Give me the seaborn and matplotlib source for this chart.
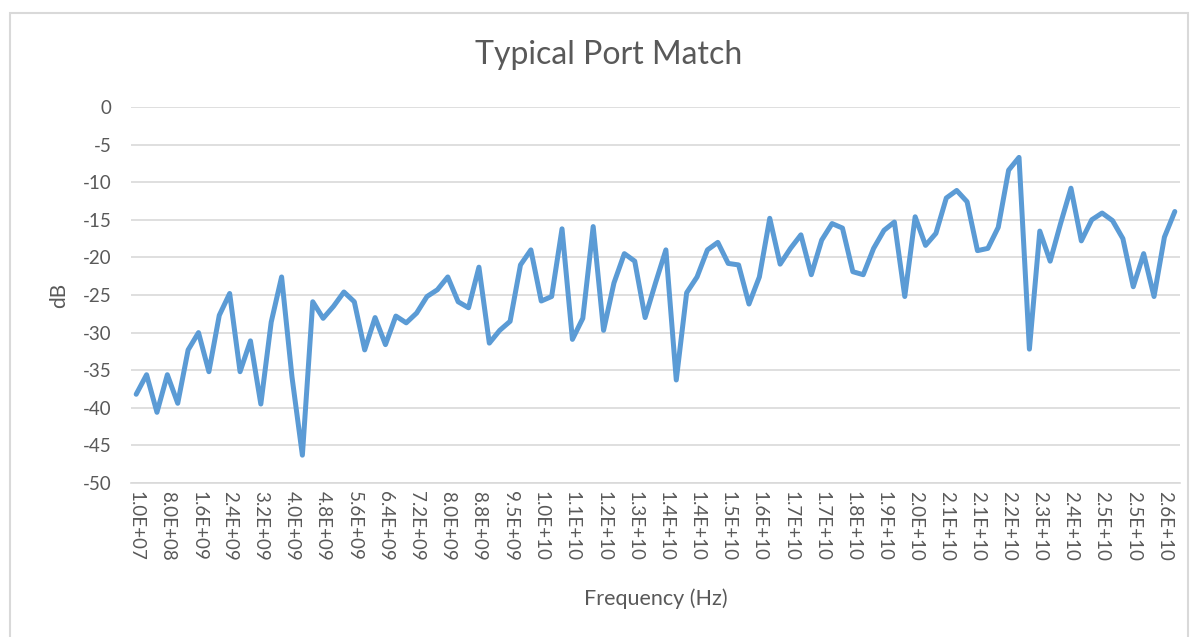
import matplotlib
matplotlib.use('Agg')
import matplotlib.pyplot as plt
import seaborn as sns
from matplotlib.patches import Rectangle

# port match in dB, one value per frequency point
match_db = [-38.2, -35.6, -40.6, -35.6, -39.4, -32.3, -30.0, -35.2, -27.7, -24.8,
            -35.2, -31.1, -39.5, -28.6, -22.6, -35.9, -46.3, -25.9, -28.1, -26.5,
            -24.6, -25.9, -32.3, -28.0, -31.6, -27.8, -28.7, -27.4, -25.2, -24.3,
            -22.6, -25.9, -26.7, -21.3, -31.4, -29.7, -28.5, -21.0, -19.0, -25.8,
            -25.2, -16.2, -30.9, -28.1, -15.9, -29.7, -23.4, -19.5, -20.5, -28.0,
            -23.4, -19.0, -36.3, -24.7, -22.6, -19.0, -18.0, -20.8, -21.0, -26.2,
            -22.6, -14.8, -20.9, -18.8, -17.0, -22.3, -17.7, -15.5, -16.1, -21.9,
            -22.3, -18.8, -16.4, -15.3, -25.2, -14.6, -18.4, -16.8, -12.1, -11.1,
            -12.6, -19.1, -18.8, -16.0, -8.4, -6.7, -32.2, -16.5, -20.5, -15.5,
            -10.8, -17.8, -15.0, -14.1, -15.1, -17.5, -23.9, -19.5, -25.2, -17.3,
            -13.9]
points = list(range(len(match_db)))

# category labels shown every third point
freq_labels = ['1.0E+07', '8.0E+08', '1.6E+09', '2.4E+09', '3.2E+09', '4.0E+09',
               '4.8E+09', '5.6E+09', '6.4E+09', '7.2E+09', '8.0E+09', '8.8E+09',
               '9.5E+09', '1.0E+10', '1.1E+10', '1.2E+10', '1.3E+10', '1.4E+10',
               '1.4E+10', '1.5E+10', '1.6E+10', '1.7E+10', '1.7E+10', '1.8E+10',
               '1.9E+10', '2.0E+10', '2.1E+10', '2.1E+10', '2.2E+10', '2.3E+10',
               '2.4E+10', '2.5E+10', '2.5E+10', '2.6E+10']
label_step = 3
y_ticks = [0, -5, -10, -15, -20, -25, -30, -35, -40, -45, -50]

sns.set_theme(style='white')
plt.rcParams['font.family'] = ['Lato', 'DejaVu Sans']
txt = '#595959'
grid = '#d9d9d9'

fig = plt.figure(figsize=(11.94, 6.37), dpi=100)
ax = fig.add_axes([131 / 1194, 1 - 483 / 637, (1180 - 131) / 1194, (483 - 107) / 637])

sns.lineplot(x=points, y=match_db, ax=ax, color='#5B9BD5', linewidth=3.6)

ax.set_xlim(-0.5, len(match_db) - 0.5)
ax.set_ylim(-50, 0)
ax.set_yticks(y_ticks)
ax.set_yticklabels([str(v) for v in y_ticks])
ax.set_xticks(points[::label_step][:len(freq_labels)])
ax.set_xticklabels(freq_labels, rotation=-90)
ax.tick_params(axis='y', length=0, pad=14, labelsize=13.5, labelcolor=txt)
ax.tick_params(axis='x', length=0, pad=6, labelsize=13.5, labelcolor=txt)
ax.grid(axis='y', color=grid, linewidth=1.2)
ax.set_axisbelow(True)
for s in ['top', 'left', 'right']:
    ax.spines[s].set_visible(False)
ax.spines['bottom'].set_color(grid)
ax.spines['bottom'].set_linewidth(1.2)

ax.set_ylabel('dB', color=txt, fontsize=15)
ax.yaxis.set_label_coords((69 - 131) / (1180 - 131), 0.5)
ax.set_xlabel('Frequency (Hz)', color=txt, fontsize=15.5)
ax.xaxis.set_label_coords(0.5, -(588 - 483) / (483 - 107))
fig.text(609 / 1194, 1 - 55 / 637, 'Typical Port Match', ha='center', va='center',
         fontsize=23, color=txt)

# chart area border
fig.patches.append(Rectangle((10 / 1194, -0.01), 1178 / 1194, 1 - 13 / 637 + 0.01,
                             transform=fig.transFigure, fill=False,
                             edgecolor=grid, linewidth=1.5))

fig.savefig('out.png', dpi=100)
